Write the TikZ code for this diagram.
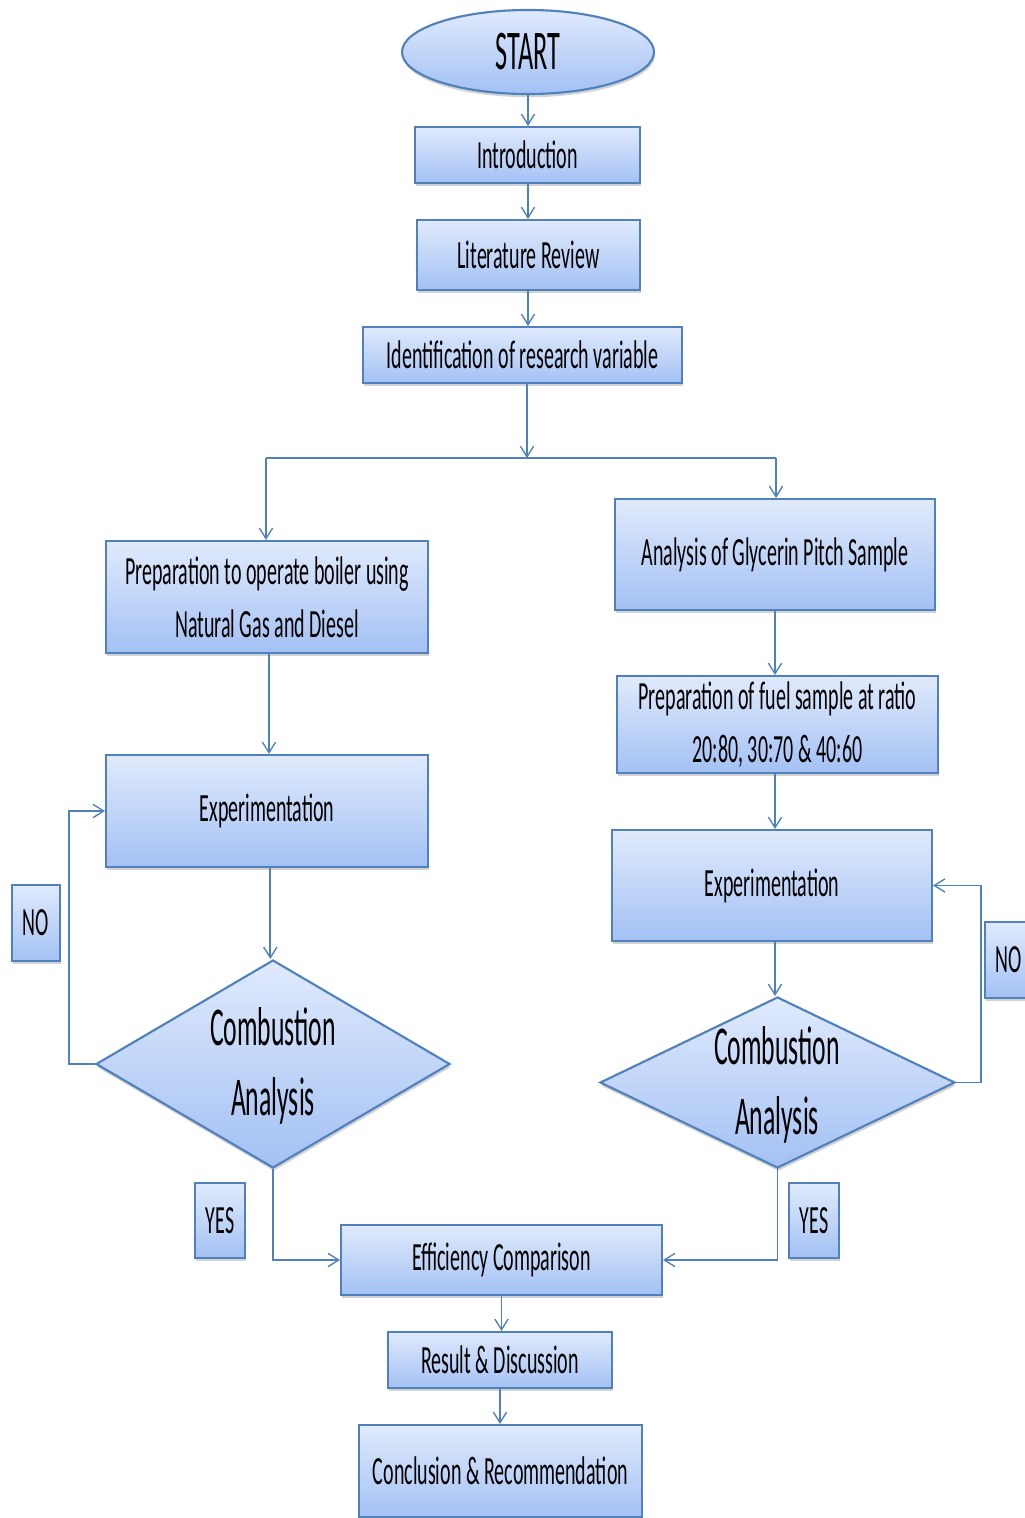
\documentclass[tikz,border=0pt]{standalone}
\usepackage{fontspec}
\setmainfont{Carlito}[FakeStretch=0.5]
\newfontfamily\bigfnt{Carlito}[FakeStretch=0.47]
\usetikzlibrary{shapes.geometric,arrows.meta,shadows}
\definecolor{bord}{RGB}{79,129,189}
\definecolor{ftop}{RGB}{224,234,252}
\definecolor{fbot}{RGB}{163,193,244}
\definecolor{lnc}{RGB}{79,129,189}
\tikzset{
 wh/.style 2 args={minimum width=#1*0.75pt, minimum height=#2*0.75pt},
 base/.style={draw=bord, line width=1.6pt, top color=ftop, bottom color=fbot, inner sep=0pt,
   drop shadow={shadow xshift=0.6pt, shadow yshift=-2.4pt, opacity=0.35},
   font=\fontsize{30}{39.75}\selectfont, align=center},
 box/.style={base, rectangle},
 oval/.style={base, ellipse},
 dia/.style={base, diamond},
 lbl/.style={inner sep=0pt, align=center, font=\bigfnt\fontsize{41}{52.5}\selectfont},
 conn/.style={draw=lnc, line width=1.4pt, -{Straight Barb[length=8pt,width=10pt,line width=1pt]}},
 plain/.style={draw=lnc, line width=1.4pt},
}
\begin{document}
\begin{tikzpicture}[x=0.75pt,y=-0.75pt]
\useasboundingbox[fill=white] (0,0) rectangle (1025,1518);
\node[oval, wh={252}{84}, font=\bigfnt\fontsize{42}{50}\selectfont] (start) at (528,52) {START};
\node[box, wh={225}{56}] (intro) at (527.5,155) {Introduction};
\node[box, wh={223}{70}] (lit) at (528.5,255) {Literature Review};
\node[box, wh={319}{56}] (ident) at (522.5,355) {Identification of research variable};
\node[box, wh={322}{112}] (prepL) at (267,597) {Preparation to operate boiler using\\Natural Gas and Diesel};
\node[box, wh={322}{112}] (expL) at (267,811) {Experimentation};
\node[dia, wh={354}{208}] (dL) at (273,1064) {};
\node[lbl] (dLt) at (273,1066) {Combustion\\Analysis};
\node[box, wh={48}{76}] (noL) at (36,923) {NO};
\node[box, wh={50}{75}] (yesL) at (220,1220.5) {YES};
\node[box, wh={320}{111}] (anal) at (775,554.5) {Analysis of Glycerin Pitch Sample};
\node[box, wh={321}{97}] (prepF) at (777.5,724.5) {Preparation of fuel sample at ratio\\20:80, 30:70 \& 40:60};
\node[box, wh={320}{111}] (expR) at (772,885.5) {Experimentation};
\node[dia, wh={355}{171}] (dR) at (777.5,1082.5) {};
\node[lbl] (dRt) at (777,1085) {Combustion\\Analysis};
\node[box, wh={48}{76}] (noR) at (1009,960) {NO};
\node[box, wh={50}{75}] (yesR) at (814,1220.5) {YES};
\node[box, wh={321}{70}] (eff) at (501.5,1260) {Efficiency Comparison};
\node[box, wh={224}{56}] (res) at (500,1360) {Result \& Discussion};
\node[box, wh={283}{92}] (conc) at (500.5,1471) {Conclusion \& Recommendation};
\coordinate (jn) at (527,458);
\coordinate (jl) at (266,458);
\coordinate (jr) at (776,458);
\draw[conn] (start.south) -- (start.south |- intro.north);
\draw[conn] (start.south |- intro.south) -- (start.south |- lit.north);
\draw[conn] (start.south |- lit.south) -- (start.south |- ident.north);
\draw[conn] (jn |- ident.south) -- (jn);
\draw[plain] (jl) -- (jr);
\draw[conn] (jl) -- (jl |- prepL.north);
\draw[conn] (jr) -- (jr |- anal.north);
\draw[conn] ([xshift=1.5pt]prepL.south) -- ([xshift=1.5pt]prepL.south |- expL.north);
\draw[conn] ([xshift=-2pt]dL.north |- expL.south) -- ([xshift=-2pt]dL.north);
\draw[conn] (dL.west) -- ++(-26,0) |- (expL.west);
\draw[conn] (dL.south) |- (eff.west);
\draw[conn] (anal.south) -- (anal.south |- prepF.north);
\draw[conn] (anal.south |- prepF.south) -- (anal.south |- expR.north);
\draw[conn] (anal.south |- expR.south) -- (anal.south |- dR.north);
\draw[conn] (dR.east) -- ++(25,0) |- (expR.east);
\draw[conn] (dR.south) |- (eff.east);
\draw[conn] (eff.south) -- (eff.south |- res.north);
\draw[conn] (res.south) -- (res.south |- conc.north);
\end{tikzpicture}
\end{document}
